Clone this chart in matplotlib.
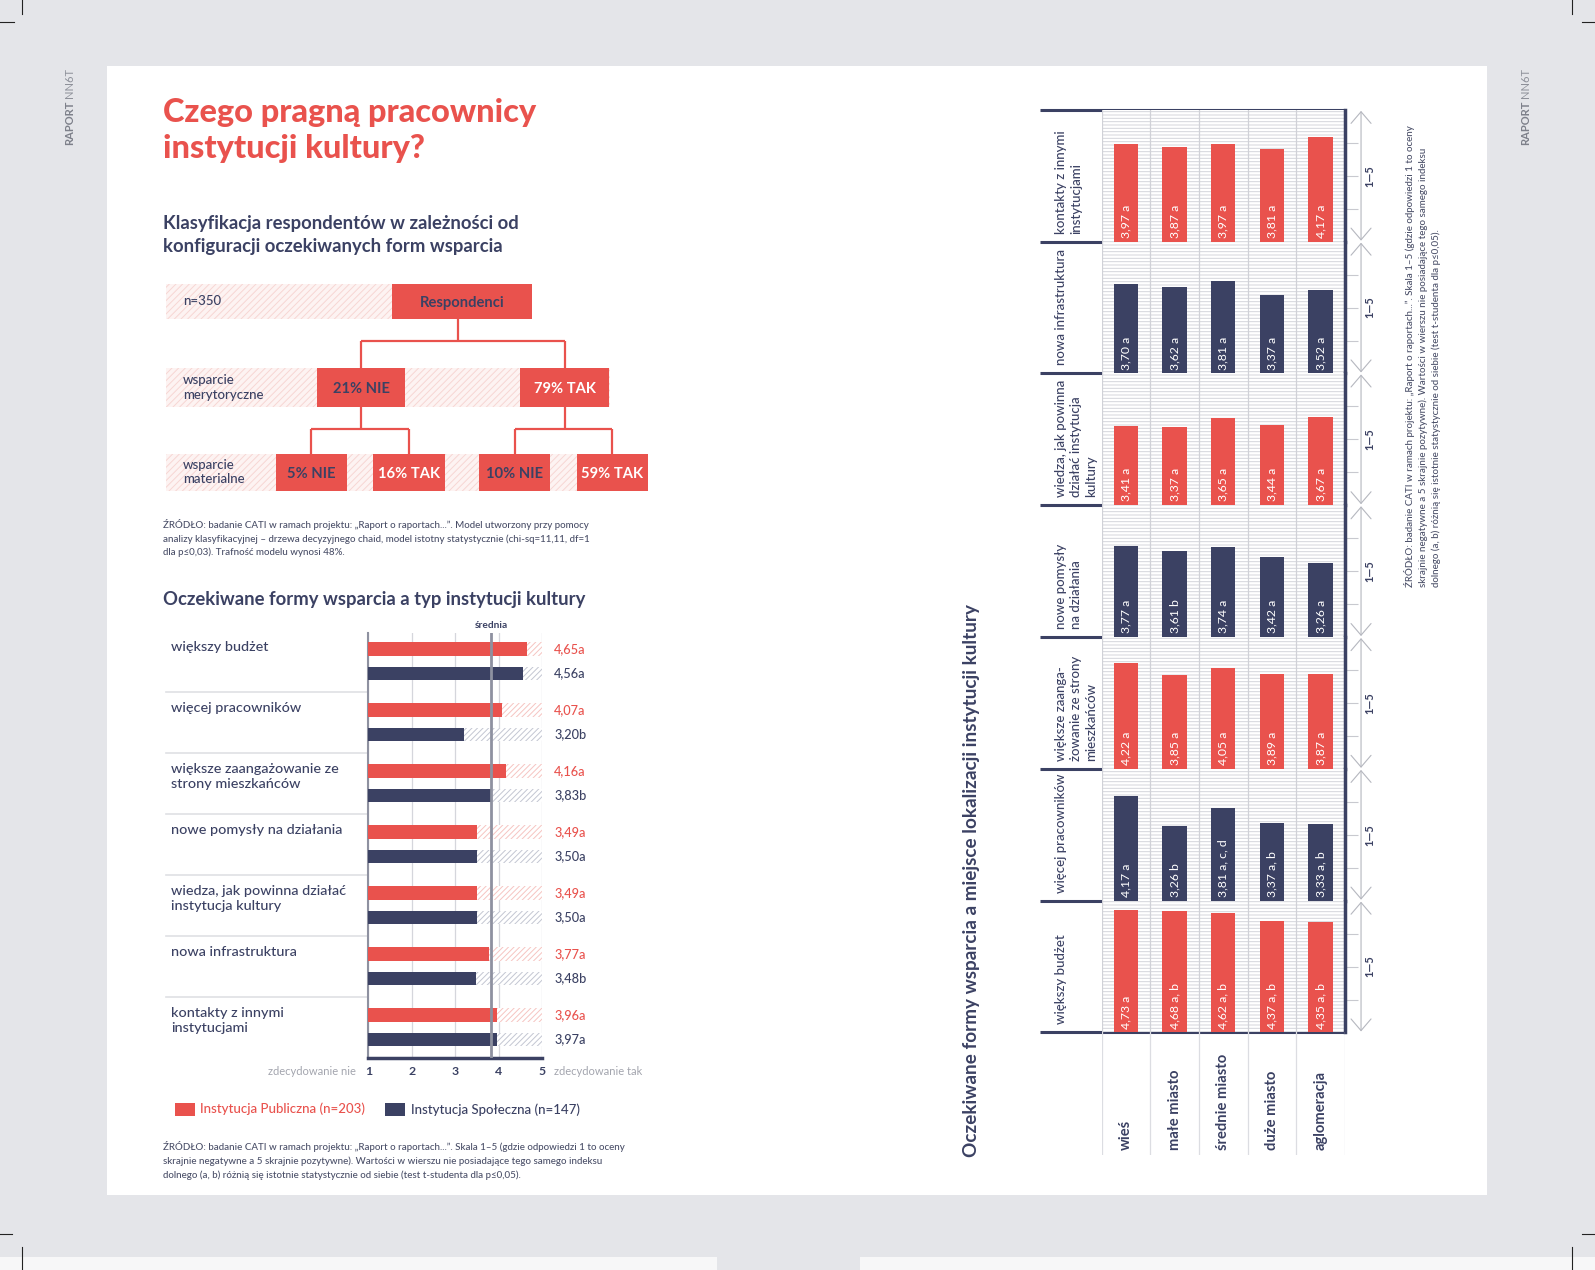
import numpy as np
import matplotlib
matplotlib.use("Agg")
import matplotlib.pyplot as plt
from matplotlib.patches import Rectangle
from matplotlib import transforms

plt.rcParams['font.family'] = ['Lato', 'DejaVu Sans']
plt.rcParams['hatch.linewidth'] = 0.7

W, H = 1595, 1270
S = 1595 / 1568          # współrzędne robocze -> piksele
WP, HP = W / S, H / S
RED = '#e9524d'
NAVY = '#3b4163'
GREY_BG = '#e4e5e9'
PINK = '#f6c4c1'
LIGHT = '#c3c6d2'

# --- dane: drzewo klasyfikacyjne ---
n_total = 350
merytoryczne_pct = [21, 79]
materialne_pct = [5, 16, 10, 59]
odpowiedzi = ['NIE', 'TAK']

# --- dane: typ instytucji ---
formy = ['większy budżet', 'więcej pracowników',
         'większe zaangażowanie ze\nstrony mieszkańców', 'nowe pomysły na działania',
         'wiedza, jak powinna działać\ninstytucja kultury', 'nowa infrastruktura',
         'kontakty z innymi\ninstytucjami']
publiczna = [4.65, 4.07, 4.16, 3.49, 3.49, 3.77, 3.96]
publiczna_idx = ['a', 'a', 'a', 'a', 'a', 'a', 'a']
spoleczna = [4.56, 3.20, 3.83, 3.50, 3.50, 3.48, 3.97]
spoleczna_idx = ['a', 'b', 'b', 'a', 'a', 'b', 'a']
srednia = 3.82

# --- dane: lokalizacja ---
lokalizacje = ['wieś', 'małe miasto', 'średnie miasto', 'duże miasto', 'aglomeracja']
panele = ['kontakty z innymi\ninstytucjami', 'nowa infrastruktura',
          'wiedza, jak powinna\ndziałać instytucja\nkultury', 'nowe pomysły\nna działania',
          'większe zaanga-\nżowanie ze strony\nmieszkańców', 'więcej pracowników',
          'większy budżet']
kontakty = [3.97, 3.87, 3.97, 3.81, 4.17]
kontakty_idx = ['a', 'a', 'a', 'a', 'a']
infrastruktura = [3.70, 3.62, 3.81, 3.37, 3.52]
infrastruktura_idx = ['a', 'a', 'a', 'a', 'a']
wiedza = [3.41, 3.37, 3.65, 3.44, 3.67]
wiedza_idx = ['a', 'a', 'a', 'a', 'a']
pomysly = [3.77, 3.61, 3.74, 3.42, 3.26]
pomysly_idx = ['a', 'b', 'a', 'a', 'a']
zaangazowanie = [4.22, 3.85, 4.05, 3.89, 3.87]
zaangazowanie_idx = ['a', 'a', 'a', 'a', 'a']
pracownicy = [4.17, 3.26, 3.81, 3.37, 3.33]
pracownicy_idx = ['a', 'b', 'a, c, d', 'a, b', 'a, b']
budzet = [4.73, 4.68, 4.62, 4.37, 4.35]
budzet_idx = ['a', 'a, b', 'a, b', 'a, b', 'a, b']

zrodlo_drzewo = ("ŹRÓDŁO: badanie CATI w ramach projektu: „Raport o raportach...”. Model utworzony przy pomocy\n"
                 "analizy klasyfikacyjnej – drzewa decyzyjnego chaid, model istotny statystycznie (chi-sq=11,11, df=1\n"
                 "dla p≤0,03). Trafność modelu wynosi 48%.")
zrodlo_skala = ("ŹRÓDŁO: badanie CATI w ramach projektu: „Raport o raportach...”. Skala 1–5 (gdzie odpowiedzi 1 to oceny\n"
                "skrajnie negatywne a 5 skrajnie pozytywne). Wartości w wierszu nie posiadające tego samego indeksu\n"
                "dolnego (a, b) różnią się istotnie statystycznie od siebie (test t-studenta dla p≤0,05).")


def pt(px):
    return px * 0.72 * S


def box(x0, y0, x1, y1):
    return [x0 / WP, 1 - y1 / HP, (x1 - x0) / WP, (y1 - y0) / HP]


def fmt(v):
    return f"{v:.2f}".replace('.', ',')


fig = plt.figure(figsize=(W / 100, H / 100), dpi=100, facecolor=GREY_BG)
bg = fig.add_axes([0, 0, 1, 1])
bg.set_xlim(0, WP)
bg.set_ylim(HP, 0)
bg.axis('off')

# strona
bg.add_patch(Rectangle((0, 1236), 705, 20, facecolor='#f7f7f8', edgecolor='none'))
bg.add_patch(Rectangle((845, 1236), 730, 20, facecolor='#f7f7f8', edgecolor='none'))
bg.add_patch(Rectangle((105, 65), 1357, 1110, facecolor='white', edgecolor='none'))
for x0, x1, y0, y1 in [(22, 22, 0, 14), (0, 14, 22, 22), (22, 22, 1226, 1250), (0, 12, 1213, 1213),
                       (1545, 1545, 0, 14), (1555, 1570, 22, 22), (1545, 1545, 1226, 1250),
                       (1555, 1570, 1213, 1213)]:
    bg.plot([x0, x1], [y0, y1], color='#222222', lw=0.8)
for xr in (68, 1500):
    t_rap = bg.text(xr, 143, 'RAPORT', rotation=90, rotation_mode='anchor', ha='left', va='center',
                    fontsize=pt(11), fontweight='bold', color='#7d808a')
    bg.annotate('NN6T', xy=(0.5, 1), xycoords=t_rap, xytext=(0, 2.5), textcoords='offset points',
                rotation=90, rotation_mode='anchor', ha='left', va='center', fontsize=pt(11),
                color='#8d9099')

# tytuły
bg.text(160, 128, 'Czego pragną pracownicy\ninstytucji kultury?', ha='left', va='center',
        fontsize=pt(32), fontweight='black', color=RED, linespacing=1.3)
bg.text(160, 231, 'Klasyfikacja respondentów w zależności od\nkonfiguracji oczekiwanych form wsparcia',
        ha='left', va='center', fontsize=pt(18.2), fontweight='bold', color=NAVY, linespacing=1.45)

# --- drzewo ---
def band(x1, y0, y1):
    bg.add_patch(Rectangle((163, y0), x1 - 163, y1 - y0, facecolor='#fdf3f2', edgecolor='#f7d6d3',
                           hatch='/////', lw=0))


def node(xc, wdt, y0, y1, label, tc):
    bg.add_patch(Rectangle((xc - wdt / 2, y0), wdt, y1 - y0, facecolor=RED, edgecolor='none'))
    bg.text(xc, (y0 + y1) / 2 + 1, label, ha='center', va='center', fontsize=pt(14.5),
            fontweight='bold', color=tc)


band(385, 279, 314)
band(600, 362, 400)
band(637, 446, 483)
bg.text(180, 296, f'n={n_total}', ha='left', va='center', fontsize=pt(13), color=NAVY,
        fontweight='medium')
bg.text(180, 381, 'wsparcie\nmerytoryczne', ha='left', va='center', fontsize=pt(13), color=NAVY,
        linespacing=1.25, fontweight='medium')
bg.text(180, 464, 'wsparcie\nmaterialne', ha='left', va='center', fontsize=pt(13), color=NAVY,
        linespacing=1.25, fontweight='medium')

lc = dict(color=RED, lw=1.6, solid_capstyle='butt')
node(454, 138, 279, 314, 'Respondenci', NAVY)
bg.plot([450, 450], [314, 335], **lc)
lvl1_x = [355, 555]
bg.plot(lvl1_x, [335, 335], **lc)
lvl2_x = [306, 402, 506, 602]
for i, p in enumerate(merytoryczne_pct):
    xc = lvl1_x[i]
    bg.plot([xc, xc], [335, 362], **lc)
    node(xc, 87, 362, 400, f'{p}% {odpowiedzi[i]}', NAVY if i == 0 else 'white')
    bg.plot([xc, xc], [400, 422], **lc)
    bg.plot([lvl2_x[2 * i], lvl2_x[2 * i + 1]], [422, 422], **lc)
for j, p in enumerate(materialne_pct):
    xc = lvl2_x[j]
    bg.plot([xc, xc], [422, 446], **lc)
    node(xc, 70, 446, 483, f'{p}% {odpowiedzi[j % 2]}', NAVY if j % 2 == 0 else 'white')

bg.text(160, 529, zrodlo_drzewo, ha='left', va='center', fontsize=pt(9.6), color='#4a4f68',
        linespacing=1.55, fontweight='medium')

# --- wykres typ instytucji ---
bg.text(160, 589, 'Oczekiwane formy wsparcia a typ instytucji kultury', ha='left', va='center',
        fontsize=pt(18.2), fontweight='bold', color=NAVY)

ax1 = fig.add_axes(box(362, 622, 533, 1040))
ax1.set_xlim(1, 5)
ax1.set_ylim(6.5, -0.47)
y = np.arange(len(formy))
pub = np.array(publiczna)
spo = np.array(spoleczna)
bh = 0.22
ax1.barh(y - 0.2, pub - 1, left=1, height=bh, color=RED, zorder=3)
ax1.barh(y - 0.2, 5 - pub, left=pub, height=bh, facecolor='white', edgecolor=PINK, hatch='//////',
         lw=0, zorder=3)
ax1.barh(y + 0.2, spo - 1, left=1, height=bh, color=NAVY, zorder=3)
ax1.barh(y + 0.2, 5 - spo, left=spo, height=bh, facecolor='white', edgecolor=LIGHT, hatch='//////',
         lw=0, zorder=3)
ax1.axvline(srednia, color='#8e91a0', lw=2, zorder=5)
ax1.set_xticks([1, 2, 3, 4, 5])
ax1.set_xticklabels(['1', '2', '3', '4', '5'], fontsize=pt(12), fontweight='bold', color=NAVY)
ax1.tick_params(axis='x', length=0, pad=6)
ax1.set_yticks([])
ax1.grid(axis='x', color='#d5d6dc', lw=0.9, zorder=0)
for s in ('top', 'right'):
    ax1.spines[s].set_visible(False)
ax1.spines['left'].set_color('#8e91a0')
ax1.spines['left'].set_linewidth(1.5)
ax1.spines['bottom'].set_color(NAVY)
ax1.spines['bottom'].set_linewidth(2.5)
ax1.text(srednia, -0.52, 'średnia', ha='center', va='bottom', fontsize=pt(10), fontweight='bold',
         color=NAVY, clip_on=False)

tr1 = transforms.blended_transform_factory(bg.transData, ax1.transData)
for i, lab in enumerate(formy):
    bg.text(168, i - 0.33, lab, transform=tr1, ha='left', va='top', fontsize=pt(14.2), color=NAVY,
            linespacing=1.25, fontweight='medium')
    bg.text(545, i - 0.2, fmt(publiczna[i]) + publiczna_idx[i], transform=tr1, ha='left',
            va='center', fontsize=pt(12.5), color=RED, fontweight='medium')
    bg.text(545, i + 0.2, fmt(spoleczna[i]) + spoleczna_idx[i], transform=tr1, ha='left',
            va='center', fontsize=pt(12.5), color=NAVY, fontweight='medium')
    if i > 0:
        bg.plot([163, 362], [i - 0.5, i - 0.5], transform=tr1, color='#dfe0e4', lw=1.2)

bg.text(350, 1053, 'zdecydowanie nie', ha='right', va='center', fontsize=pt(11), color='#a3a5ae')
bg.text(545, 1053, 'zdecydowanie tak', ha='left', va='center', fontsize=pt(11), color='#a3a5ae')

bg.add_patch(Rectangle((172, 1084), 20, 13, facecolor=RED, edgecolor='none'))
bg.text(197, 1090, 'Instytucja Publiczna (n=203)', ha='left', va='center', fontsize=pt(13), color=RED,
        fontweight='medium')
bg.add_patch(Rectangle((378, 1084), 20, 13, facecolor=NAVY, edgecolor='none'))
bg.text(404, 1091, 'Instytucja Społeczna (n=147)', ha='left', va='center', fontsize=pt(13),
        color=NAVY, fontweight='medium')

bg.text(160, 1141, zrodlo_skala, ha='left', va='center', fontsize=pt(9.6), color='#4a4f68',
        linespacing=1.55, fontweight='medium')

# --- wykres lokalizacja (obrócony) ---
bg.text(955, 1137, 'Oczekiwane formy wsparcia a miejsce lokalizacji instytucji kultury',
        rotation=90, rotation_mode='anchor', ha='left', va='center', fontsize=pt(18.5),
        fontweight='bold', color=NAVY)

serie = [kontakty, infrastruktura, wiedza, pomysly, zaangazowanie, pracownicy, budzet]
indeksy = [kontakty_idx, infrastruktura_idx, wiedza_idx, pomysly_idx, zaangazowanie_idx,
           pracownicy_idx, budzet_idx]
bounds = np.linspace(108, 1015, len(panele) + 1)
xs = np.arange(len(lokalizacje))
for k, (vals, idx) in enumerate(zip(serie, indeksy)):
    axp = fig.add_axes(box(1083, bounds[k], 1322, bounds[k + 1]))
    axp.set_xlim(-0.5, 4.5)
    axp.set_ylim(1, 5)
    axp.add_patch(Rectangle((0, 0), 1, 1, transform=axp.transAxes, facecolor='white',
                            edgecolor='#d4d5db', hatch='-----', lw=0, zorder=0))
    for xv in np.arange(-0.5, 5):
        axp.axvline(xv, color='#d0d1d7', lw=0.9, zorder=1)
    col = RED if k % 2 == 0 else NAVY
    v = np.array(vals)
    axp.bar(xs, v - 1, bottom=1, width=0.5, color=col, zorder=2)
    for i in xs:
        axp.text(i, 1.12, fmt(vals[i]) + ' ' + idx[i], rotation=90, rotation_mode='anchor',
                 ha='left', va='center', fontsize=pt(12), color='white', zorder=3)
    axp.set_xticks([])
    axp.yaxis.tick_right()
    axp.set_yticks([2, 3, 4])
    axp.set_yticklabels([])
    axp.tick_params(axis='y', length=9, width=0.8, color='#c8c9cf')
    for s in ('top', 'bottom', 'left'):
        axp.spines[s].set_visible(False)
    axp.spines['right'].set_color(NAVY)
    axp.spines['right'].set_linewidth(2.5)
    # etykieta panelu
    bg.text(1037, bounds[k + 1] - 8, panele[k], rotation=90, rotation_mode='anchor', ha='left',
            va='top', fontsize=pt(13), color=NAVY, linespacing=1.3, fontweight='medium')
    bg.annotate('', xy=(1338, bounds[k] + 1), xytext=(1338, bounds[k + 1] - 1),
                arrowprops=dict(arrowstyle='<->,head_length=0.7,head_width=0.6', color='#b5b7bf',
                                lw=0.8, shrinkA=0, shrinkB=0, mutation_scale=12))
    bg.text(1347, (bounds[k] + bounds[k + 1]) / 2, '1—5', rotation=90, ha='center', va='center',
            fontsize=pt(11), fontweight='bold', color=NAVY)

for yb in bounds:
    bg.plot([1022, 1322], [yb, yb], color=NAVY, lw=2.2, solid_capstyle='butt')

axl = fig.add_axes(box(1083, 1015, 1322, 1135))
axl.set_xlim(-0.5, 4.5)
axl.set_ylim(0, 1)
axl.axis('off')
for xv in np.arange(-0.5, 5):
    axl.axvline(xv, color='#dcdde2', lw=0.9)
for i, loc in enumerate(lokalizacje):
    axl.text(i, 0.04, loc, rotation=90, rotation_mode='anchor', ha='left', va='center',
             fontsize=pt(14.5), fontweight='bold', color=NAVY)

bg.text(1380, 577, zrodlo_skala, rotation=90, rotation_mode='anchor', ha='left', va='top',
        fontsize=pt(9.6), color='#4a4f68', linespacing=1.45, fontweight='medium')

fig.savefig('out.png', dpi=100, facecolor=GREY_BG)
